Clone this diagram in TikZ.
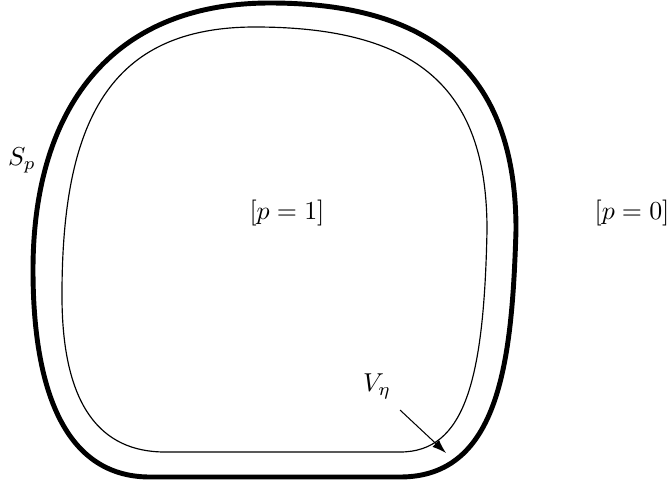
\documentclass[tikz,border=0pt]{standalone}
\usepackage{amsmath,amssymb}
\usepackage{tikz}
\usetikzlibrary{arrows.meta}

\begin{document}
\begin{tikzpicture}[x=0.386pt,y=-0.386pt]
  \useasboundingbox (0,0) rectangle (672,489);
  % outer boundary S_p
  \draw[line width=1.9pt] (270,3) .. controls (450,3) and (516,90) .. (516,230)
    .. controls (512,360) and (500,477) .. (400,477) -- (150,477)
    .. controls (60,477) and (33,380) .. (33,270)
    .. controls (33,110) and (110,3) .. cycle;
  % inner region
  \draw[line width=0.45pt] (255,27) .. controls (425,27) and (487,95) .. (487,230)
    .. controls (484,380) and (465,452) .. (400,452) -- (165,452)
    .. controls (100,452) and (63,405) .. (62,300)
    .. controls (61,120) and (110,27) .. cycle;
  \node (Sp) at (22,160) {$S_p$};
  \node (pone) at (287,213) {$[p=1]$};
  \node (pzero) at (632,213) {$[p=0]$};
  \node (Veta) at (377,386) {$V_\eta$};
  \coordinate (vtail) at (400,410);
  \coordinate (vtip) at (446,453);
  \draw[-{Latex[length=1.9mm,width=1.3mm]}] (vtail) -- (vtip);
\end{tikzpicture}
\end{document}
